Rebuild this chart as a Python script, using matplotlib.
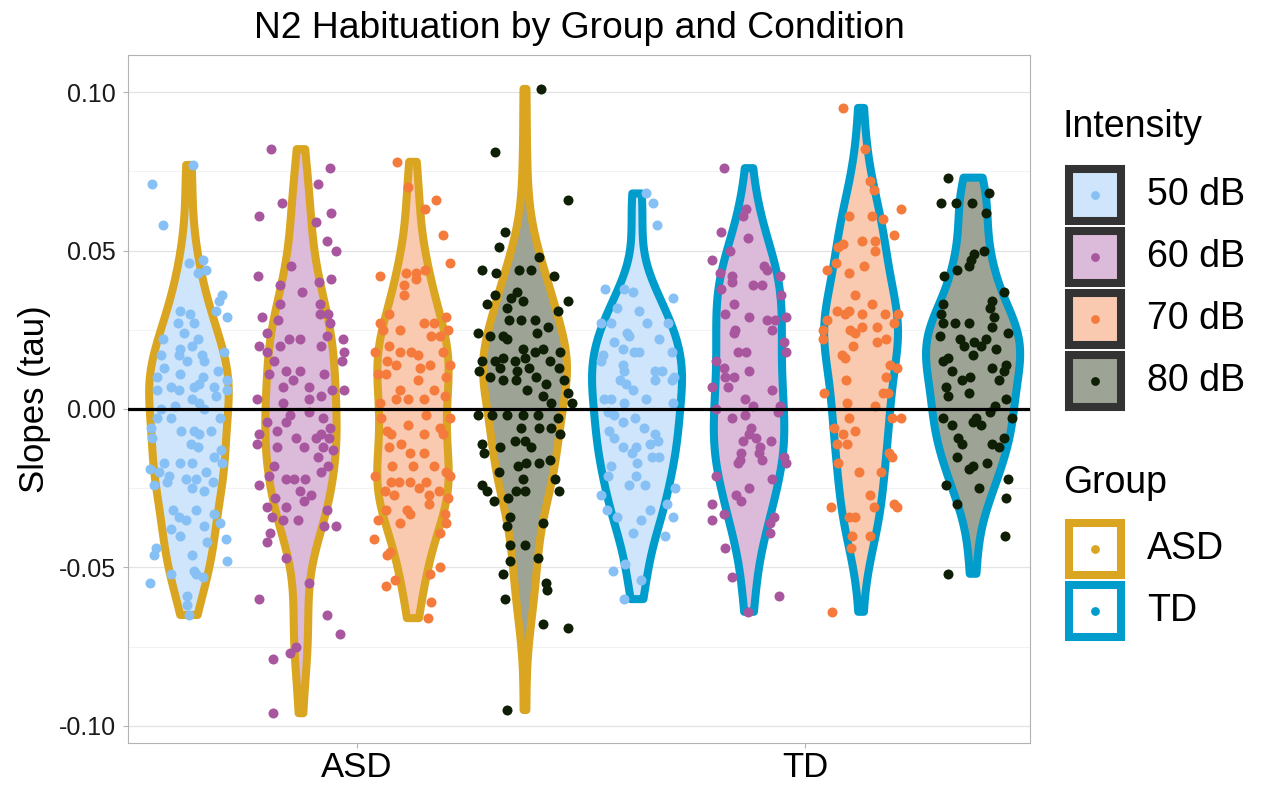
import numpy as np
import matplotlib
matplotlib.use('Agg')
import matplotlib.pyplot as plt
from matplotlib.patches import Rectangle
from matplotlib.ticker import FuncFormatter

plt.rcParams['font.family'] = ['Liberation Sans', 'DejaVu Sans']

# Werte (tau) und horizontaler Jitter jedes Punktes
asd_50_tau = [0.077, 0.071, 0.058, 0.046, 0.047, 0.043, 0.044, 0.036, 0.034, 0.031,
              0.029, 0.031, 0.030, 0.027, 0.027, 0.024, 0.022, 0.022, 0.020, 0.019,
              0.018, 0.017, 0.017, 0.017, 0.015, 0.015, 0.013, 0.012, 0.011, 0.010,
              0.010, 0.009, 0.007, 0.006, 0.007, 0.008, 0.007, 0.006, 0.006, 0.004,
              0.003, 0.002, 0.001, 0.000, 0.000, -0.003, -0.003, -0.003, -0.007, -0.007,
              -0.007, -0.006, -0.009, -0.011, -0.008, -0.012, -0.013, -0.015, -0.017, -0.017,
              -0.017, -0.017, -0.019, -0.020, -0.021, -0.020, -0.022, -0.022, -0.023, -0.024,
              -0.023, -0.025, -0.026, -0.032, -0.032, -0.033, -0.034, -0.035, -0.036, -0.037,
              -0.038, -0.040, -0.041, -0.042, -0.044, -0.046, -0.046, -0.048, -0.052, -0.051,
              -0.052, -0.053, -0.055, -0.059, -0.065, -0.062]
asd_50_jit = [0.010, -0.082, -0.058, 0.000, 0.032, 0.020, 0.037, 0.074, 0.067, 0.060,
              0.084, -0.019, 0.002, -0.024, 0.011, -0.011, -0.058, 0.020, 0.007, -0.020,
              0.078, -0.062, -0.022, 0.030, -0.004, 0.033, -0.056, 0.065, -0.020, -0.071,
              0.031, 0.086, -0.041, -0.022, 0.011, 0.022, 0.056, 0.086, -0.072, 0.060,
              0.007, 0.022, -0.030, -0.063, 0.033, -0.071, -0.041, 0.069, -0.017, 0.011,
              0.050, -0.084, -0.082, 0.004, 0.022, 0.020, 0.071, 0.056, 0.074, -0.056,
              -0.020, 0.007, -0.086, -0.067, -0.045, 0.037, -0.007, 0.015, 0.054, -0.078,
              -0.048, 0.007, 0.033, -0.035, 0.015, 0.057, -0.022, -0.007, 0.069, 0.033,
              -0.041, -0.019, 0.082, 0.041, -0.073, -0.077, 0.007, 0.086, -0.039, 0.011,
              0.015, 0.031, -0.086, -0.005, 0.000, -0.004]

asd_60_tau = [0.082, 0.076, 0.071, 0.065, 0.061, 0.062, 0.059, 0.053, 0.050, 0.045,
              0.042, 0.041, 0.040, 0.039, 0.037, 0.033, 0.033, 0.030, 0.030, 0.029,
              0.028, 0.027, 0.024, 0.023, 0.022, 0.022, 0.022, 0.020, 0.020, 0.020,
              0.018, 0.018, 0.015, 0.015, 0.012, 0.012, 0.011, 0.011, 0.009, 0.007,
              0.007, 0.006, 0.006, 0.004, 0.003, 0.003, 0.002, -0.002, -0.001, -0.004,
              -0.004, -0.003, -0.006, -0.007, -0.008, -0.008, -0.009, -0.009, -0.009, -0.011,
              -0.012, -0.012, -0.012, -0.013, -0.015, -0.018, -0.018, -0.020, -0.021, -0.022,
              -0.022, -0.022, -0.024, -0.026, -0.027, -0.028, -0.029, -0.031, -0.031, -0.032,
              -0.034, -0.035, -0.035, -0.037, -0.037, -0.039, -0.042, -0.047, -0.055, -0.060,
              -0.065, -0.071, -0.075, -0.077, -0.079, -0.096]
asd_60_jit = [-0.067, 0.064, 0.038, -0.043, -0.094, 0.066, 0.034, 0.058, 0.079, -0.022,
              -0.095, 0.066, 0.040, -0.047, 0.003, -0.047, 0.043, 0.043, 0.060, -0.086,
              -0.052, 0.064, -0.076, 0.058, 0.094, -0.026, -0.003, -0.094, -0.046, 0.044,
              0.096, -0.076, -0.060, 0.092, -0.034, -0.003, -0.071, 0.052, -0.017, -0.041,
              0.017, 0.070, 0.096, 0.044, -0.097, 0.019, -0.041, -0.024, 0.017, -0.076,
              -0.033, 0.049, 0.064, -0.054, -0.093, 0.045, -0.011, 0.034, 0.062, -0.099,
              -0.054, 0.006, 0.049, 0.072, 0.038, 0.060, -0.060, 0.045, -0.071, -0.033,
              -0.015, 0.010, -0.094, -0.003, 0.023, -0.058, 0.006, -0.076, -0.033, 0.058,
              -0.065, -0.041, -0.007, 0.052, 0.079, -0.068, -0.076, -0.033, 0.017, -0.094,
              0.058, 0.088, -0.011, -0.024, -0.063, -0.063]

asd_70_tau = [0.078, 0.070, 0.066, 0.063, 0.055, 0.046, 0.042, 0.043, 0.043, 0.044,
              0.041, 0.039, 0.036, 0.030, 0.029, 0.027, 0.027, 0.027, 0.025, 0.025,
              0.023, 0.025, 0.023, 0.020, 0.018, 0.018, 0.018, 0.017, 0.018, 0.015,
              0.014, 0.014, 0.014, 0.013, 0.011, 0.011, 0.010, 0.009, 0.006, 0.006,
              0.003, 0.003, 0.003, 0.004, 0.002, -0.002, -0.003, -0.003, -0.005, -0.006,
              -0.007, -0.008, -0.008, -0.008, -0.011, -0.012, -0.014, -0.014, -0.018, -0.018,
              -0.018, -0.021, -0.020, -0.021, -0.023, -0.023, -0.023, -0.023, -0.026, -0.027,
              -0.025, -0.027, -0.026, -0.028, -0.030, -0.032, -0.035, -0.032, -0.033, -0.036,
              -0.033, -0.036, -0.039, -0.041, -0.045, -0.046, -0.050, -0.052, -0.054, -0.056,
              -0.061, -0.066]
asd_70_jit = [-0.036, -0.011, 0.052, 0.027, 0.067, 0.083, -0.074, -0.015, 0.007, 0.027,
              0.007, -0.021, -0.019, -0.054, 0.074, -0.074, 0.024, 0.046, -0.067, -0.028,
              0.041, 0.078, 0.060, -0.054, -0.085, -0.030, -0.004, 0.011, 0.067, -0.058,
              -0.037, 0.082, 0.037, 0.016, -0.078, -0.060, 0.074, 0.011, -0.028, 0.048,
              -0.037, -0.011, 0.024, 0.071, -0.074, 0.030, 0.082, -0.071, -0.011, 0.060,
              -0.058, -0.048, 0.024, 0.067, -0.026, -0.054, -0.007, 0.024, 0.000, -0.046,
              0.046, -0.085, 0.074, 0.082, -0.048, -0.031, -0.006, 0.030, -0.063, -0.043,
              0.013, 0.036, 0.058, 0.078, 0.036, -0.061, -0.078, -0.013, -0.006, -0.030,
              0.071, 0.074, 0.060, -0.088, -0.052, -0.058, 0.060, 0.037, -0.041, -0.060,
              0.041, 0.033]

asd_80_tau = [0.101, 0.081, 0.066, 0.056, 0.051, 0.048, 0.044, 0.043, 0.044, 0.044,
              0.042, 0.036, 0.037, 0.035, 0.034, 0.033, 0.034, 0.032, 0.031, 0.028,
              0.028, 0.028, 0.026, 0.024, 0.023, 0.023, 0.022, 0.024, 0.019, 0.019,
              0.015, 0.015, 0.016, 0.015, 0.016, 0.018, 0.018, 0.015, 0.012, 0.013,
              0.012, 0.013, 0.013, 0.010, 0.009, 0.009, 0.010, 0.008, 0.009, 0.006,
              0.004, 0.005, 0.002, 0.002, -0.002, -0.002, -0.002, -0.002, -0.002, -0.003,
              -0.006, -0.006, -0.006, -0.008, -0.010, -0.010, -0.011, -0.012, -0.012, -0.014,
              -0.017, -0.016, -0.018, -0.017, -0.020, -0.022, -0.022, -0.024, -0.026, -0.029,
              -0.028, -0.026, -0.026, -0.026, -0.034, -0.037, -0.036, -0.043, -0.043, -0.048,
              -0.052, -0.047, -0.055, -0.057, -0.060, -0.068, -0.069, -0.095]
asd_80_jit = [0.036, -0.068, 0.096, -0.044, -0.057, 0.032, -0.097, -0.064, -0.014, 0.013,
              0.064, -0.068, -0.018, -0.032, 0.097, -0.085, -0.005, -0.041, 0.073, -0.036,
              -0.009, 0.023, 0.052, -0.105, -0.079, -0.050, -0.041, 0.027, -0.005, 0.041,
              -0.096, -0.068, -0.048, -0.023, 0.000, 0.023, 0.077, 0.055, -0.103, -0.055,
              -0.018, 0.009, 0.076, -0.079, -0.050, -0.021, 0.025, 0.046, 0.087, 0.005,
              0.041, 0.096, 0.057, 0.105, -0.105, -0.073, -0.041, -0.005, 0.030, 0.073,
              0.059, -0.009, 0.032, 0.079, -0.023, 0.000, -0.096, 0.014, -0.055, -0.091,
              0.032, 0.055, -0.015, 0.003, -0.059, -0.005, 0.066, -0.097, -0.085, -0.070,
              -0.039, -0.021, 0.000, 0.076, -0.034, -0.041, 0.041, -0.034, 0.000, -0.034,
              -0.050, 0.030, 0.046, 0.048, -0.045, 0.041, 0.097, -0.041]

td_50_tau = [0.068, 0.065, 0.058, 0.038, 0.038, 0.037, 0.035, 0.032, 0.031, 0.027,
             0.027, 0.027, 0.027, 0.024, 0.023, 0.022, 0.021, 0.019, 0.018, 0.018,
             0.018, 0.017, 0.015, 0.014, 0.012, 0.012, 0.012, 0.009, 0.009, 0.009,
             0.010, 0.008, 0.006, 0.003, 0.003, 0.002, 0.003, 0.002, -0.001, -0.002,
             -0.004, -0.003, -0.006, -0.007, -0.009, -0.008, -0.010, -0.011, -0.012, -0.012,
             -0.014, -0.015, -0.015, -0.017, -0.018, -0.021, -0.021, -0.024, -0.024, -0.025,
             -0.027, -0.030, -0.032, -0.032, -0.034, -0.034, -0.035, -0.039, -0.040, -0.049,
             -0.051, -0.054, -0.060]
td_50_jit = [0.019, 0.035, 0.045, -0.071, -0.030, -0.010, 0.080, -0.045, 0.005, 0.022,
             0.070, -0.080, -0.058, -0.022, -0.017, 0.048, -0.052, -0.032, -0.006, 0.005,
             0.077, -0.077, -0.080, -0.032, 0.039, 0.056, -0.028, -0.039, 0.041, 0.077,
             0.083, -0.024, -0.010, -0.074, -0.057, -0.028, 0.019, 0.080, -0.065, -0.051,
             -0.032, -0.004, 0.016, -0.062, -0.052, 0.041, 0.046, 0.030, -0.032, -0.002,
             -0.012, 0.033, 0.049, -0.001, -0.058, -0.064, -0.002, -0.019, 0.018, 0.085,
             -0.080, 0.067, -0.067, 0.030, -0.045, 0.080, 0.009, -0.010, 0.062, -0.027,
             -0.054, 0.009, -0.030]

td_60_tau = [0.076, 0.063, 0.061, 0.056, 0.054, 0.050, 0.047, 0.043, 0.045, 0.044,
             0.042, 0.042, 0.040, 0.039, 0.039, 0.038, 0.036, 0.033, 0.030, 0.029,
             0.028, 0.028, 0.029, 0.025, 0.025, 0.024, 0.021, 0.018, 0.018, 0.018,
             0.015, 0.013, 0.010, 0.012, 0.010, 0.007, 0.007, 0.006, 0.003, 0.001,
             0.000, 0.001, -0.002, -0.003, -0.001, -0.006, -0.008, -0.010, -0.010, -0.009,
             -0.012, -0.014, -0.014, -0.016, -0.015, -0.016, -0.017, -0.017, -0.021, -0.022,
             -0.025, -0.027, -0.029, -0.030, -0.035, -0.033, -0.034, -0.036, -0.039, -0.044,
             -0.053, -0.059, -0.064]
td_60_jit = [-0.057, -0.007, -0.013, -0.062, -0.002, -0.043, -0.082, -0.065, 0.033, 0.040,
             0.068, -0.039, -0.037, 0.009, 0.028, -0.062, 0.071, -0.034, -0.054, 0.000,
             0.040, 0.057, 0.083, -0.032, 0.052, -0.034, 0.077, 0.083, -0.025, -0.007,
             -0.073, -0.057, -0.033, 0.000, -0.054, -0.047, -0.082, 0.052, -0.010, 0.009,
             -0.074, 0.068, -0.010, -0.039, 0.065, 0.005, 0.001, 0.050, -0.013, 0.016,
             0.024, 0.022, -0.017, -0.021, 0.077, 0.028, 0.083, -0.025, -0.073, 0.052,
             0.001, -0.030, -0.017, -0.082, -0.082, -0.057, 0.055, 0.046, 0.046, -0.054,
             -0.039, 0.067, -0.002]

td_70_tau = [0.095, 0.082, 0.072, 0.069, 0.063, 0.061, 0.061, 0.060, 0.055, 0.053,
             0.053, 0.052, 0.051, 0.050, 0.045, 0.046, 0.044, 0.043, 0.036, 0.033,
             0.031, 0.031, 0.030, 0.030, 0.030, 0.030, 0.028, 0.025, 0.022, 0.025,
             0.024, 0.026, 0.026, 0.027, 0.020, 0.017, 0.016, 0.021, 0.022, 0.014,
             0.013, 0.010, 0.009, 0.005, 0.005, 0.005, 0.002, 0.001, -0.003, -0.003,
             -0.003, -0.006, -0.007, -0.008, -0.011, -0.011, -0.014, -0.015, -0.017, -0.020,
             -0.020, -0.027, -0.031, -0.030, -0.031, -0.031, -0.034, -0.034, -0.040, -0.040,
             -0.044, -0.064]
td_70_jit = [-0.041, 0.008, 0.020, 0.029, 0.088, -0.028, 0.025, 0.050, 0.073, 0.002,
             0.030, -0.041, -0.051, 0.030, 0.006, -0.056, -0.076, -0.026, -0.013, 0.025,
             -0.054, -0.026, -0.036, 0.002, 0.053, 0.082, -0.076, -0.086, -0.085, -0.024,
             -0.013, 0.002, 0.035, 0.073, -0.017, -0.043, -0.036, 0.035, 0.055, 0.065,
             0.080, 0.055, -0.033, 0.050, 0.061, -0.083, -0.032, 0.030, -0.028, 0.068,
             0.088, -0.061, -0.013, -0.041, -0.032, -0.054, 0.063, 0.068, -0.051, -0.005,
             0.044, 0.020, -0.068, 0.073, 0.080, 0.029, -0.026, -0.013, -0.020, 0.020,
             -0.023, -0.064]

td_80_tau = [0.073, 0.065, 0.065, 0.065, 0.068, 0.062, 0.050, 0.049, 0.047, 0.045,
             0.044, 0.042, 0.037, 0.034, 0.033, 0.032, 0.030, 0.029, 0.027, 0.027,
             0.027, 0.026, 0.023, 0.024, 0.022, 0.022, 0.021, 0.020, 0.020, 0.019,
             0.017, 0.016, 0.015, 0.014, 0.013, 0.012, 0.012, 0.010, 0.009, 0.009,
             0.007, 0.005, 0.004, 0.003, 0.001, -0.001, -0.003, -0.003, -0.005, -0.005,
             -0.003, -0.004, -0.009, -0.011, -0.009, -0.011, -0.012, -0.015, -0.017, -0.019,
             -0.018, -0.024, -0.025, -0.022, -0.028, -0.030, -0.040, -0.052]
td_80_jit = [-0.056, -0.072, -0.039, -0.003, 0.036, 0.028, 0.025, 0.002, -0.005, -0.010,
             -0.035, -0.065, 0.069, 0.042, -0.068, 0.037, -0.072, 0.046, -0.068, -0.040,
             -0.010, 0.043, -0.074, 0.079, -0.030, 0.028, 0.002, -0.020, 0.017, 0.052,
             -0.001, -0.057, -0.068, 0.074, 0.042, -0.047, 0.069, -0.007, -0.024, 0.058,
             -0.061, -0.010, -0.055, 0.074, 0.050, 0.037, -0.067, 0.006, -0.046, 0.017,
             0.086, -0.001, -0.033, -0.024, 0.069, 0.043, 0.058, -0.035, 0.032, -0.010,
             -0.001, -0.061, 0.013, 0.077, 0.073, -0.037, 0.071, -0.057]

groups = ['ASD', 'TD']
intensities = ['50 dB', '60 dB', '70 dB', '80 dB']
yticks = [-0.10, -0.05, 0.00, 0.05, 0.10]

tau = {
    ('ASD', '50 dB'): (asd_50_tau, asd_50_jit),
    ('ASD', '60 dB'): (asd_60_tau, asd_60_jit),
    ('ASD', '70 dB'): (asd_70_tau, asd_70_jit),
    ('ASD', '80 dB'): (asd_80_tau, asd_80_jit),
    ('TD', '50 dB'): (td_50_tau, td_50_jit),
    ('TD', '60 dB'): (td_60_tau, td_60_jit),
    ('TD', '70 dB'): (td_70_tau, td_70_jit),
    ('TD', '80 dB'): (td_80_tau, td_80_jit),
}
for k, (v, j) in tau.items():
    assert len(v) == len(j), (k, len(v), len(j))

point_col = ['#86c0f5', '#a8579f', '#f47b3c', '#0f1f05']
fill_col = ['#cfe5fb', '#dcbad9', '#f9c9b0', '#9da395']
group_col = ['#daa520', '#009ccc']
dodge = [-0.375, -0.125, 0.125, 0.375]


# Dichte wie ggplot (bw.nrd0, getrimmt auf min/max)
def density(vals):
    v = np.asarray(vals)
    n = len(v)
    iqr = np.percentile(v, 75) - np.percentile(v, 25)
    bw = 0.9 * min(v.std(ddof=1), iqr / 1.34) * n ** -0.2
    ys = np.linspace(v.min(), v.max(), 512)
    d = np.exp(-0.5 * ((ys[:, None] - v[None, :]) / bw) ** 2).sum(1) / (n * bw * np.sqrt(2 * np.pi))
    return ys, d


dens = {k: density(v) for k, (v, j) in tau.items()}
dmax = max(d.max() for ys, d in dens.values())

fig = plt.figure(figsize=(12.61, 7.87), dpi=100)
ax = fig.add_axes((128 / 1261, 44 / 787, 902 / 1261, 688 / 787))

for gi, g in enumerate(groups):
    for ii, it in enumerate(intensities):
        c = gi + 1 + dodge[ii]
        ys, d = dens[(g, it)]
        w = d / dmax * 0.105
        ax.fill(np.r_[c - w, (c + w)[::-1]], np.r_[ys, ys[::-1]],
                facecolor=fill_col[ii], edgecolor=group_col[gi], linewidth=5.8,
                joinstyle='round', zorder=2)

for gi, g in enumerate(groups):
    for ii, it in enumerate(intensities):
        v, j = tau[(g, it)]
        x = gi + 1 + dodge[ii] + np.asarray(j)
        ax.scatter(x, v, s=52, color=point_col[ii], linewidths=0, zorder=3)

ax.axhline(0, color='black', linewidth=2.3, zorder=4)

ax.set_xlim(0.489, 2.502)
ax.set_ylim(-0.1054, 0.1117)
ax.set_xticks([1, 2])
ax.set_xticklabels(groups)
ax.set_yticks(yticks)
ax.set_yticks([-0.075, -0.025, 0.025, 0.075], minor=True)
ax.yaxis.set_major_formatter(FuncFormatter(lambda v, p: f'{v:.2f}'))
ax.grid(axis='y', which='major', color='#e3e3e3', linewidth=0.9)
ax.grid(axis='y', which='minor', color='#f0f0f0', linewidth=0.6)
ax.set_axisbelow(True)
for s in ax.spines.values():
    s.set_color('#b3b3b3')
    s.set_linewidth(0.8)
ax.tick_params(axis='both', which='major', color='#b3b3b3', length=3.5, width=0.8)
ax.tick_params(axis='y', which='minor', length=0)
ax.tick_params(axis='y', labelsize=18, labelcolor='#1a1a1a', pad=5.5)
ax.tick_params(axis='x', labelsize=25, labelcolor='black', pad=2)
ax.set_ylabel('Slopes (tau)', fontsize=25, labelpad=5)

fig.text(579 / 1261, 1 - 28 / 787, 'N2 Habituation by Group and Condition',
         ha='center', va='center', fontsize=26.8)

# Legende
lax = fig.add_axes((0, 0, 1, 1))
lax.set_xlim(0, 1261)
lax.set_ylim(787, 0)
lax.axis('off')
lax.text(1063, 127, 'Intensity', fontsize=27, va='center', ha='left')
for ii, it in enumerate(intensities):
    cy = 195 + ii * 62
    lax.add_patch(Rectangle((1069, cy - 26), 52, 52, facecolor=fill_col[ii],
                            edgecolor='#333333', linewidth=5.8))
    lax.scatter([1095], [cy], s=40, color=point_col[ii], linewidths=0)
    lax.text(1147, cy, it, fontsize=27, va='center', ha='left')
lax.text(1063, 483, 'Group', fontsize=27, va='center', ha='left')
for gi, g in enumerate(groups):
    cy = 549 + gi * 62
    lax.add_patch(Rectangle((1069, cy - 26), 52, 52, facecolor='white',
                            edgecolor=group_col[gi], linewidth=5.8))
    lax.scatter([1095], [cy], s=40, color=group_col[gi], linewidths=0)
    lax.text(1147, cy, g, fontsize=27, va='center', ha='left')

fig.savefig('out.png', dpi=100)
